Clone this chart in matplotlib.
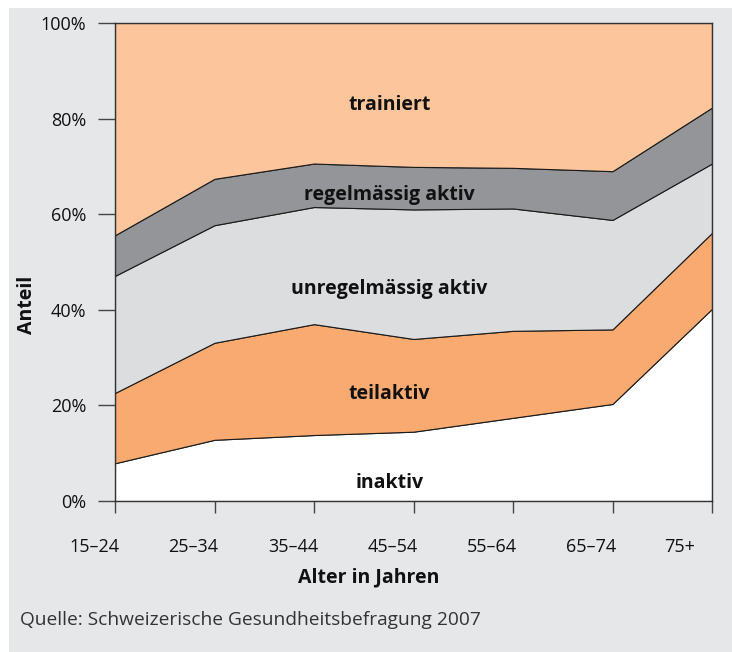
import matplotlib
matplotlib.use("Agg")
import matplotlib.pyplot as plt
from matplotlib.patches import Rectangle

plt.rcParams['font.family'] = ['Open Sans', 'DejaVu Sans']

age_groups = ["15–24", "25–34", "35–44", "45–54", "55–64", "65–74", "75+"]
inaktiv = [7.9, 12.8, 13.8, 14.5, 17.4, 20.3, 40.2]
teilaktiv = [14.7, 20.3, 23.2, 19.4, 18.2, 15.6, 15.9]
unregelmaessig = [24.5, 24.6, 24.5, 27.1, 25.6, 22.9, 14.5]
regelmaessig = [8.5, 9.7, 9.1, 8.9, 8.5, 10.2, 11.7]
trainiert = [44.4, 32.6, 29.4, 30.1, 30.3, 31.0, 17.7]

series_names = ["inaktiv", "teilaktiv", "unregelmässig aktiv", "regelmässig aktiv", "trainiert"]
colors = ["#ffffff", "#f8aa70", "#dcdddf", "#939598", "#fdc59b"]
label_pos_y = [3.8, 22.4, 44.4, 64.0, 82.8]

W, H = 732, 652
fig = plt.figure(figsize=(W / 100, H / 100), dpi=100)
fig.patch.set_facecolor("white")
fig.patches.append(Rectangle((9 / W, 0), 1 - 9 / W, 1 - 8 / H, transform=fig.transFigure,
                             facecolor="#e6e7e9", edgecolor="none", zorder=-10))

ax = fig.add_axes([115 / W, 1 - 501 / H, (712 - 115) / W, (501 - 23) / H])
x = list(range(len(age_groups)))
ax.stackplot(x, inaktiv, teilaktiv, unregelmaessig, regelmaessig, trainiert,
             colors=colors, edgecolor="#1a1a1a", linewidth=0.8)

ax.set_yticks([0, 20, 40, 60, 80, 100])
ax.set_yticklabels(["0%", "20%", "40%", "60%", "80%", "100%"], fontsize=13, color="#111111")
ax.tick_params(axis="y", direction="out", length=12.2, width=1, color="#444444", pad=8.5)

ax.set_xticks(x)
ax.set_xticklabels([])
ax.tick_params(axis="x", which="major", direction="out", length=8.6, width=1, color="#444444")
ax.set_xlim(0, len(age_groups) - 1)
ax.set_ylim(0, 100)

offsets = [-0.21] * (len(age_groups) - 1) + [-0.33]
for xi, o, lab in zip(x, offsets, age_groups):
    ax.text(xi + o, -(547 - 501) / 478, lab, transform=ax.get_xaxis_transform(),
            ha="center", va="center", fontsize=13, color="#111111", clip_on=False)

for s in ax.spines.values():
    s.set_color("#333333")
    s.set_linewidth(1)

for name, ypos in zip(series_names, label_pos_y):
    ax.text(2.76, ypos, name, ha="center", va="center", fontsize=14, fontweight="bold", color="#111111")

fig.text(369 / W, 1 - 577 / H, "Alter in Jahren", ha="center", va="center",
         fontsize=14, fontweight="bold", color="#111111")
fig.text(27 / W, 1 - 305 / H, "Anteil", ha="center", va="center", rotation=90,
         fontsize=14, fontweight="bold", color="#111111")
fig.text(20 / W, 1 - 620 / H, "Quelle: Schweizerische Gesundheitsbefragung 2007", ha="left", va="center",
         fontsize=13.8, color="#333333")

fig.savefig("out.png", dpi=100)
